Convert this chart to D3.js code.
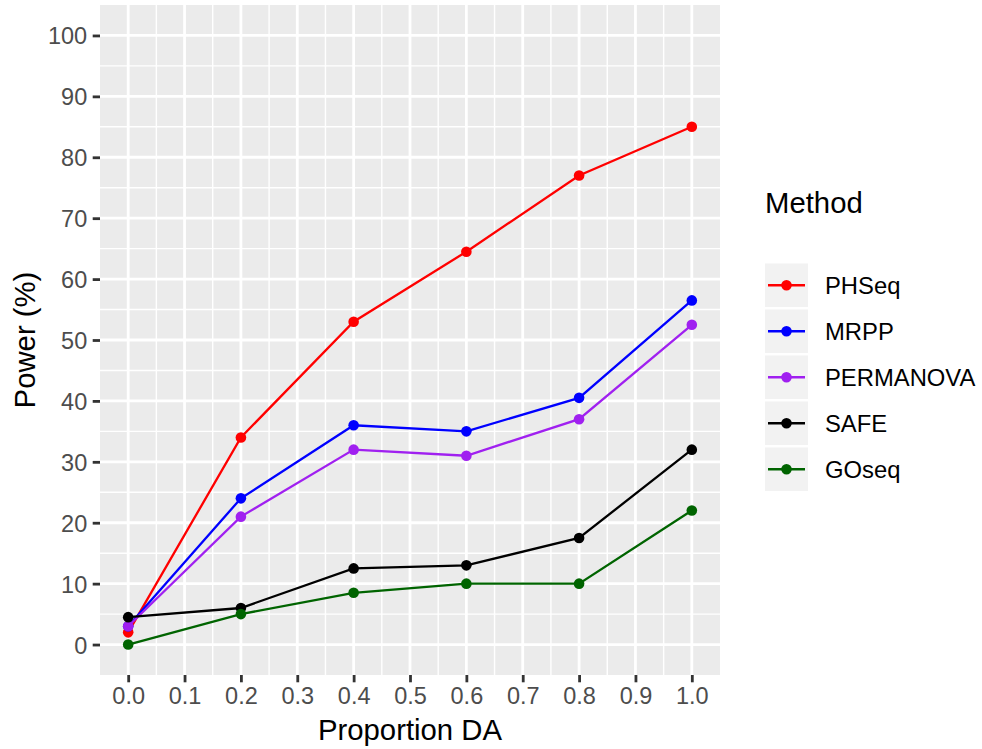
<!DOCTYPE html>
<html>
<head>
<meta charset="utf-8">
<script src="https://cdn.jsdelivr.net/npm/d3@7"></script>
<style>
  html, body { margin: 0; padding: 0; background: #fff; }
  svg { display: block; font-family: "Liberation Sans", Arial, sans-serif; }
</style>
</head>
<body>
<svg id="chart" width="982" height="749"></svg>
<script>
// ---- data ----
const proportions = [0.0, 0.2, 0.4, 0.6, 0.8, 1.0];
const methods = ["PHSeq", "MRPP", "PERMANOVA", "SAFE", "GOseq"];
const phseq     = [2, 34, 53, 64.5, 77, 85];
const mrpp      = [3, 24, 36, 35, 40.5, 56.5];
const permanova = [3, 21, 32, 31, 37, 52.5];
const safe      = [4.5, 6, 12.5, 13, 17.5, 32];
const goseq     = [0, 5, 8.5, 10, 10, 22];
const xTicks = [0.0, 0.1, 0.2, 0.3, 0.4, 0.5, 0.6, 0.7, 0.8, 0.9, 1.0];
const yTicks = [0, 10, 20, 30, 40, 50, 60, 70, 80, 90, 100];
const colors = ["#FF0000", "#0000FF", "#A020F0", "#000000", "#006400"];

const seriesValues = [phseq, mrpp, permanova, safe, goseq];
const series = methods.map((m, i) => ({
  name: m, color: colors[i],
  points: proportions.map((p, j) => ({ x: p, y: seriesValues[i][j] }))
}));

// ---- layout ----
const svg = d3.select("#chart");
const panel = { left: 100, right: 720, top: 5, bottom: 675 };

const x = d3.scaleLinear().domain([-0.05, 1.05]).range([panel.left, panel.right]);
const y = d3.scaleLinear().domain([-5, 105]).range([panel.bottom, panel.top]);

// panel background
svg.append("rect")
  .attr("x", panel.left).attr("y", panel.top)
  .attr("width", panel.right - panel.left).attr("height", panel.bottom - panel.top)
  .attr("fill", "#EBEBEB");

// minor gridlines
const xMinor = xTicks.slice(0, -1).map((d, i) => (d + xTicks[i + 1]) / 2);
const yMinor = yTicks.slice(0, -1).map((d, i) => (d + yTicks[i + 1]) / 2);
const grid = svg.append("g");
grid.selectAll(".xminor").data(xMinor).enter().append("line")
  .attr("x1", d => x(d)).attr("x2", d => x(d))
  .attr("y1", panel.top).attr("y2", panel.bottom)
  .attr("stroke", "#fff").attr("stroke-width", 1.4);
grid.selectAll(".yminor").data(yMinor).enter().append("line")
  .attr("x1", panel.left).attr("x2", panel.right)
  .attr("y1", d => y(d)).attr("y2", d => y(d))
  .attr("stroke", "#fff").attr("stroke-width", 1.4);
grid.selectAll(".xmajor").data(xTicks).enter().append("line")
  .attr("x1", d => x(d)).attr("x2", d => x(d))
  .attr("y1", panel.top).attr("y2", panel.bottom)
  .attr("stroke", "#fff").attr("stroke-width", 2.8);
grid.selectAll(".ymajor").data(yTicks).enter().append("line")
  .attr("x1", panel.left).attr("x2", panel.right)
  .attr("y1", d => y(d)).attr("y2", d => y(d))
  .attr("stroke", "#fff").attr("stroke-width", 2.8);

// axes
const xAxis = d3.axisBottom(x).tickValues(xTicks).tickFormat(d3.format(".1f"))
  .tickSize(7.3).tickPadding(5);
const yAxis = d3.axisLeft(y).tickValues(yTicks).tickFormat(d3.format("d"))
  .tickSize(7.3).tickPadding(5.5);

const gx = svg.append("g").attr("transform", `translate(0,${panel.bottom})`).call(xAxis);
const gy = svg.append("g").attr("transform", `translate(${panel.left},0)`).call(yAxis);
[gx, gy].forEach(g => {
  g.select(".domain").remove();
  g.selectAll(".tick line").attr("stroke", "#333333").attr("stroke-width", 2.8);
  g.selectAll(".tick text").attr("fill", "#4D4D4D")
    .style("font-family", '"Liberation Sans", Arial, sans-serif').style("font-size", "23.5px");
});
gx.selectAll(".tick text").attr("dy", "0.72em");
gy.selectAll(".tick text").attr("dy", "0.36em");

// axis titles
svg.append("text")
  .attr("x", (panel.left + panel.right) / 2).attr("y", 740)
  .attr("text-anchor", "middle").attr("fill", "#000")
  .style("font-size", "29.3px").text("Proportion DA");
svg.append("text")
  .attr("transform", `translate(35,${(panel.top + panel.bottom) / 2}) rotate(-90)`)
  .attr("text-anchor", "middle").attr("fill", "#000")
  .style("font-size", "29.3px").text("Power (%)");

// lines and points
const line = d3.line().x(d => x(d.x)).y(d => y(d.y));
const gs = svg.append("g").selectAll("g").data(series).enter().append("g");
gs.append("path")
  .attr("d", d => line(d.points))
  .attr("fill", "none").attr("stroke", d => d.color).attr("stroke-width", 2.3);
gs.selectAll("circle").data(d => d.points.map(p => ({ ...p, color: d.color }))).enter()
  .append("circle")
  .attr("cx", d => x(d.x)).attr("cy", d => y(d.y)).attr("r", 5.3)
  .attr("fill", d => d.color);

// legend
const legend = svg.append("g");
legend.append("text").attr("x", 765).attr("y", 212.5)
  .attr("fill", "#000").style("font-size", "29.3px").text("Method");
const keyTop = 263.5, keyPitch = 46, keyH = 43.5, keyX = 765, keyW = 43;
const items = legend.selectAll(".item").data(series).enter().append("g")
  .attr("transform", (d, i) => `translate(0,${keyTop + i * keyPitch})`);
items.append("rect").attr("x", keyX).attr("y", 0).attr("width", keyW).attr("height", keyH)
  .attr("fill", "#F2F2F2");
items.append("line").attr("x1", keyX + 3).attr("x2", keyX + keyW - 3)
  .attr("y1", keyH / 2).attr("y2", keyH / 2)
  .attr("stroke", d => d.color).attr("stroke-width", 2.3);
items.append("circle").attr("cx", keyX + keyW / 2).attr("cy", keyH / 2).attr("r", 5.3)
  .attr("fill", d => d.color);
items.append("text").attr("x", 825).attr("y", keyH / 2 + 8.6)
  .attr("fill", "#000").style("font-size", "23.8px").text(d => d.name);
</script>
</body>
</html>
